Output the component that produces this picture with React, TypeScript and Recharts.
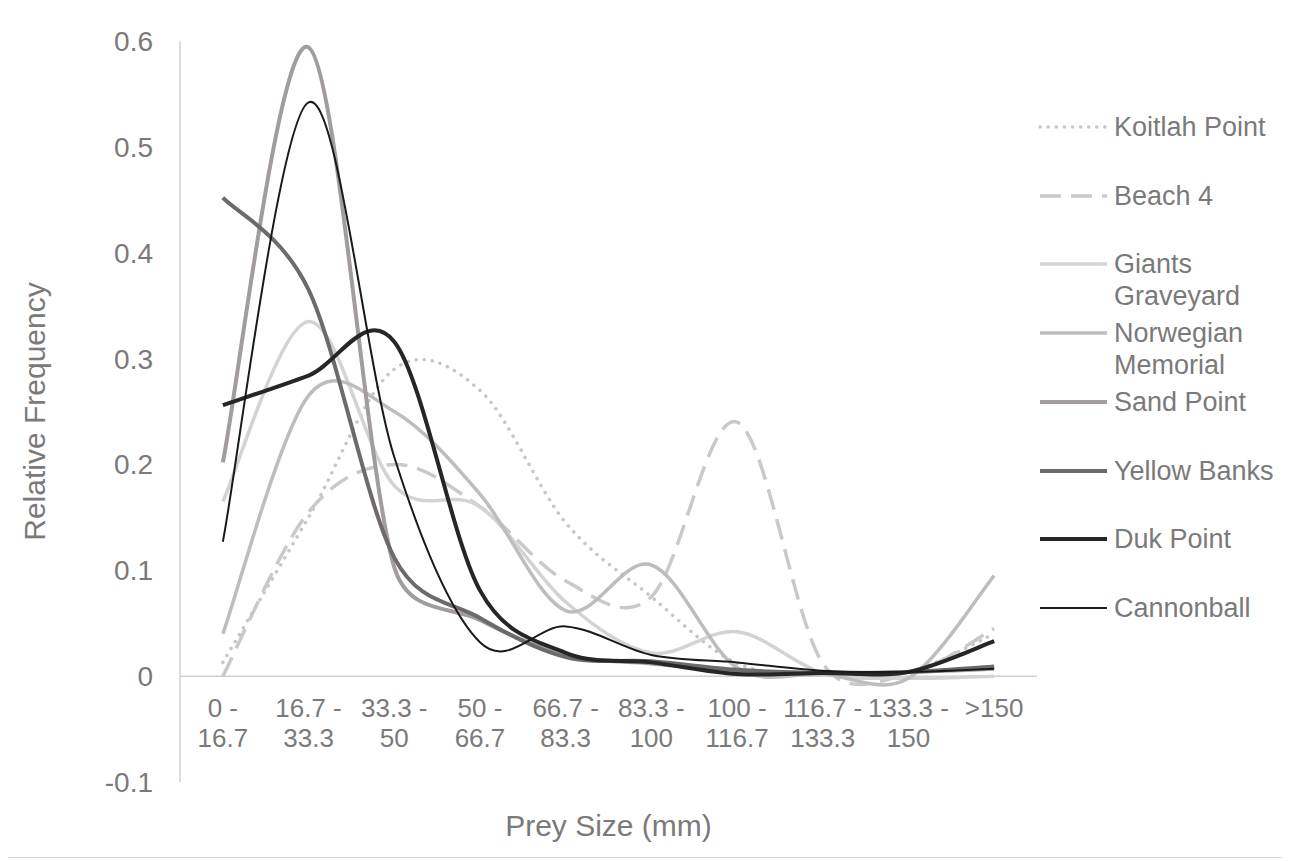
import React from 'react';
import { LineChart, Line, XAxis, YAxis, Legend, ReferenceLine } from 'recharts';

const categories = [
  '0 - 16.7', '16.7 - 33.3', '33.3 - 50', '50 - 66.7', '66.7 - 83.3',
  '83.3 - 100', '100 - 116.7', '116.7 - 133.3', '133.3 - 150', '>150',
];

const koitlahPoint = [0.013, 0.15, 0.29, 0.27, 0.145, 0.075, 0.012, 0.002, 0.004, 0.04];
const beach4 = [0.0, 0.155, 0.2, 0.16, 0.09, 0.075, 0.24, 0.012, 0.002, 0.045];
const giantsGraveyard = [0.165, 0.335, 0.18, 0.16, 0.07, 0.022, 0.042, 0.003, -0.002, 0.0];
const norwegianMemorial = [0.04, 0.265, 0.25, 0.172, 0.062, 0.105, 0.008, 0.002, -0.002, 0.095];
const sandPoint = [0.202, 0.594, 0.103, 0.053, 0.02, 0.012, 0.005, 0.003, 0.004, 0.007];
const yellowBanks = [0.452, 0.365, 0.112, 0.055, 0.018, 0.014, 0.006, 0.003, 0.004, 0.009];
const dukPoint = [0.256, 0.284, 0.316, 0.081, 0.022, 0.013, 0.002, 0.003, 0.004, 0.033];
const cannonball = [0.127, 0.542, 0.207, 0.032, 0.047, 0.02, 0.013, 0.005, 0.004, 0.007];

const yTicks = [-0.1, 0, 0.1, 0.2, 0.3, 0.4, 0.5, 0.6];

const SERIES = [
  { key: 'koitlah', name: 'Koitlah Point', values: koitlahPoint, color: '#cbc4c4', width: 3.5, dash: '0.1 8', cap: 'round' },
  { key: 'beach4', name: 'Beach 4', values: beach4, color: '#c9c9c9', width: 3.5, dash: '21 10', cap: 'butt' },
  { key: 'giants', name: 'Giants Graveyard', values: giantsGraveyard, color: '#d3d3d3', width: 3.5 },
  { key: 'norwegian', name: 'Norwegian Memorial', values: norwegianMemorial, color: '#bdbdbd', width: 3.5 },
  { key: 'sand', name: 'Sand Point', values: sandPoint, color: '#a29c9c', width: 4 },
  { key: 'yellow', name: 'Yellow Banks', values: yellowBanks, color: '#6e6a6a', width: 4 },
  { key: 'duk', name: 'Duk Point', values: dukPoint, color: '#262626', width: 4 },
  { key: 'cannonball', name: 'Cannonball', values: cannonball, color: '#1a1a1a', width: 2 },
];

const data = categories.map((range, i) => {
  const row: Record<string, any> = { range };
  SERIES.forEach((s) => { row[s.key] = s.values[i]; });
  return row;
});

const FONT = '"Liberation Sans", Arial, sans-serif';
const TEXT = '#7a7a7a';
const AXIS = '#d0d0d0';

const W = 1270;
const H = 845;
const TOP = 33;
const X_AXIS_H = 71;
const PLOT_H = H - TOP - X_AXIS_H;
const Y_MIN = -0.1;
const Y_MAX = 0.6;
const ZERO_SHIFT = (PLOT_H * (0 - Y_MIN)) / (Y_MAX - Y_MIN);
const LEGEND_W = 241;

// smoothing close to the office "smoothed line": bezier through points, handles capped at half a segment
const smoothCurve = (context: any) => {
  let pts: number[][] = [];
  const dist = (a: number[], b: number[]) => Math.hypot(a[0] - b[0], a[1] - b[1]);
  return {
    areaStart() {},
    areaEnd() {},
    lineStart() { pts = []; },
    point(x: number, y: number) { pts.push([+x, +y]); },
    lineEnd() {
      const n = pts.length;
      if (!n) return;
      context.moveTo(pts[0][0], pts[0][1]);
      for (let i = 0; i < n - 1; i++) {
        const p0 = pts[Math.max(i - 1, 0)];
        const p1 = pts[i];
        const p2 = pts[i + 1];
        const p3 = pts[Math.min(i + 2, n - 1)];
        const d12 = dist(p1, p2);
        const d02 = dist(p0, p2);
        const d13 = dist(p1, p3);
        const f1 = d02 > 0 ? Math.min(1 / 6, d12 / (2 * d02)) : 0;
        const f2 = d13 > 0 ? Math.min(1 / 6, d12 / (2 * d13)) : 0;
        context.bezierCurveTo(
          p1[0] + (p2[0] - p0[0]) * f1, p1[1] + (p2[1] - p0[1]) * f1,
          p2[0] - (p3[0] - p1[0]) * f2, p2[1] - (p3[1] - p1[1]) * f2,
          p2[0], p2[1],
        );
      }
    },
  };
};

const XTick = (props: any) => {
  const { x, y, payload } = props;
  const parts = String(payload.value).split(' - ');
  const first = parts.length > 1 ? parts[0] + ' -' : parts[0];
  const second = parts.length > 1 ? parts[1] : '';
  const zeroY = y - ZERO_SHIFT;
  return (
    <text x={x} y={zeroY + 41} textAnchor="middle" fill={TEXT} fontSize={26} fontFamily={FONT}>
      <tspan x={x}>{first}</tspan>
      {second && <tspan x={x} dy={30}>{second}</tspan>}
    </text>
  );
};

const YTitle = (props: any) => {
  const { viewBox } = props;
  const cx = viewBox.x + 26;
  const cy = viewBox.y + viewBox.height / 2;
  return (
    <text x={cx} y={cy} transform={`rotate(-90 ${cx} ${cy})`} textAnchor="middle" dominantBaseline="central"
      fill={TEXT} fontSize={30} fontFamily={FONT}>
      Relative Frequency
    </text>
  );
};

const XTitle = (props: any) => {
  const { viewBox } = props;
  const cx = viewBox.x + viewBox.width / 2;
  const cy = viewBox.y + 43;
  return (
    <text x={cx} y={cy} textAnchor="middle" dominantBaseline="central" fill={TEXT} fontSize={30} fontFamily={FONT}>
      Prey Size (mm)
    </text>
  );
};

const SeriesLegend = () => (
  <div style={{ position: 'relative', width: LEGEND_W, height: 640 }}>
    {SERIES.map((s, i) => (
      <div key={s.key} style={{ position: 'absolute', left: 0, top: 119 + i * 68.7 - 16, display: 'flex' }}>
        <svg width={77} height={32} style={{ flex: 'none' }}>
          <line x1={3} x2={70} y1={16} y2={16} stroke={s.color} strokeWidth={s.width}
            strokeDasharray={s.dash} strokeLinecap={(s.cap as any) || 'butt'} />
        </svg>
        <span style={{ width: 162, fontSize: 27, lineHeight: '32px', color: TEXT, fontFamily: FONT }}>{s.name}</span>
      </div>
    ))}
  </div>
);

export default function App() {
  return (
    <div style={{ width: 1279, height: 849, marginLeft: -1, marginTop: -1, border: '1px solid #d9d9d9', background: '#fff' }}>
      <LineChart width={W} height={H} data={data} margin={{ top: TOP, right: 0, bottom: 0, left: 0 }}>
        <XAxis dataKey="range" scale="band" axisLine={false} tickLine={false} tickSize={0} tickMargin={0}
          height={X_AXIS_H} interval={0} tick={<XTick />} label={<XTitle />} />
        <YAxis domain={[Y_MIN, Y_MAX]} ticks={yTicks} allowDataOverflow width={172} tickLine={false}
          tickSize={0} tickMargin={27} axisLine={{ stroke: AXIS, strokeWidth: 1.5 }}
          tick={{ fill: TEXT, fontSize: 28, fontFamily: FONT }} label={<YTitle />} />
        <ReferenceLine y={0} stroke={AXIS} strokeWidth={1.5} />
        <Legend layout="vertical" align="right" verticalAlign="top" width={LEGEND_W}
          wrapperStyle={{ top: 0 }} content={() => <SeriesLegend />} />
        {SERIES.map((s) => (
          <Line key={s.key} dataKey={s.key} name={s.name} type={smoothCurve as any} stroke={s.color}
            strokeWidth={s.width} strokeDasharray={s.dash} strokeLinecap={(s.cap as any) || 'butt'}
            dot={false} activeDot={false} isAnimationActive={false} />
        ))}
      </LineChart>
    </div>
  );
}
